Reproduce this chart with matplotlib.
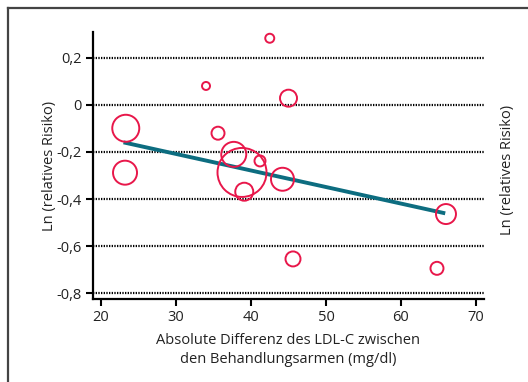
import matplotlib
matplotlib.use("Agg")
import matplotlib.pyplot as plt
from matplotlib.lines import Line2D
import numpy as np

plt.rcParams["font.family"] = ["Open Sans", "DejaVu Sans"]

# studies: LDL-C difference, ln(relative risk), circle radius (study weight)
ldl_diff = [34.0, 42.5, 45.0, 23.3, 23.2, 35.6, 37.7, 38.8, 41.2, 44.2, 39.1, 45.6, 66.0, 64.8]
ln_rr = [0.081, 0.284, 0.029, -0.099, -0.288, -0.12, -0.21, -0.287, -0.238, -0.316, -0.369, -0.655, -0.464, -0.695]
weight = [4, 4.5, 8.5, 13.5, 12, 6.5, 12.5, 24.5, 5.5, 11.5, 9, 7.5, 10, 6.5]

# regression line end points
fit_x = [23.0, 65.9]
fit_y = [-0.159, -0.461]

yticks = [0.2, 0, -0.2, -0.4, -0.6, -0.8]
ytick_labels = ["0,2", "0", "-0,2", "-0,4", "-0,6", "-0,8"]
xticks = [20, 30, 40, 50, 60, 70]

fig = plt.figure(figsize=(5.28, 3.82), dpi=100)
ax = fig.add_axes([93 / 528, 1 - 299 / 382, 391 / 528, 267 / 382])

for yv in yticks:
    ax.axhline(yv, color="black", lw=1.6, ls=(0, (0.6, 0.6)), zorder=1)

sizes = (2 * np.array(weight) * 0.72) ** 2
ax.scatter(ldl_diff, ln_rr, s=sizes, facecolors="none", edgecolors="#e8174a",
           linewidths=1.4, zorder=3)
ax.plot(fit_x, fit_y, color="#0d6d80", lw=2.8, zorder=2, solid_capstyle="butt")

ax.set_xlim(18.93, 71.07)
ax.set_ylim(-0.8255, 0.3106)
ax.set_xticks(xticks)
ax.set_yticks(yticks)
ax.set_yticklabels(ytick_labels)
ax.tick_params(direction="out", length=5, width=1.5, labelsize=10.5, color="black",
               labelcolor="#222222", pad=3)

for s in ["top", "right"]:
    ax.spines[s].set_visible(False)
for s in ["left", "bottom"]:
    ax.spines[s].set_linewidth(1.6)

ax.set_xlabel("Absolute Differenz des LDL-C zwischen\nden Behandlungsarmen (mg/dl)",
              fontsize=10.5, labelpad=6, linespacing=1.35, color="#222222")
ax.set_ylabel("Ln (relatives Risiko)", fontsize=10.5, labelpad=0, color="#222222")
fig.text(507 / 528, 1 - 170 / 382, "Ln (relatives Risiko)", rotation=90,
         fontsize=10.5, ha="center", va="center", color="#222222")

# frame around the figure
fig.add_artist(Line2D([8 / 528, 1], [1 - 8 / 382, 1 - 8 / 382], color="#444444", lw=1.6))
fig.add_artist(Line2D([8 / 528, 8 / 528], [0, 1 - 8 / 382], color="#444444", lw=1.6))

fig.savefig("out.png", dpi=100)
